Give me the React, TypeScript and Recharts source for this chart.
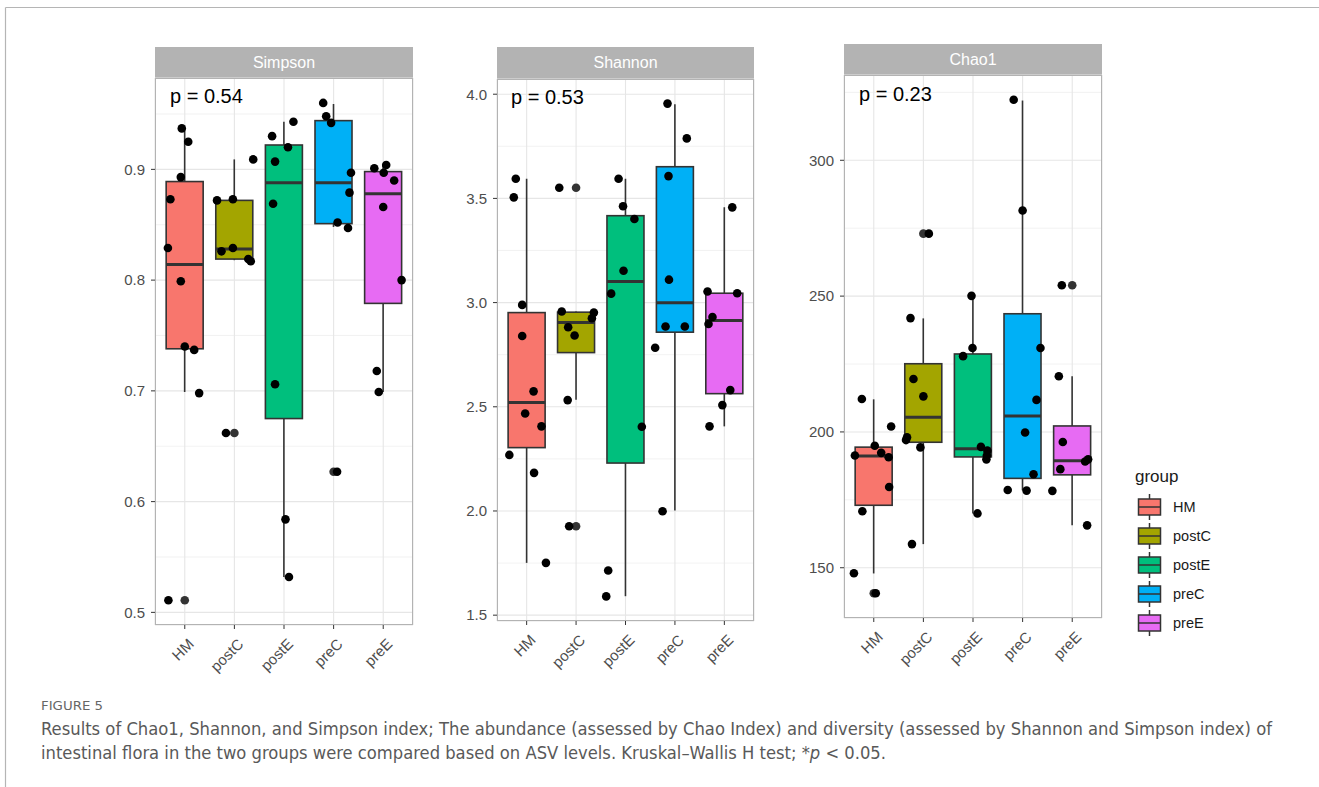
import React from "react";
import { ComposedChart, Bar, Scatter, XAxis, YAxis, CartesianGrid } from "recharts";

const groups = ["HM", "postC", "postE", "preC", "preE"];
const groupColors = ["#F8766D", "#A3A500", "#00BF7D", "#00B0F6", "#E76BF3"];

// box stats per group: [lower whisker, Q1, median, Q3, upper whisker]
const simpsonBoxes = [
  [0.699, 0.738, 0.814, 0.889, 0.935],
  [0.818, 0.819, 0.828, 0.872, 0.909],
  [0.532, 0.675, 0.888, 0.922, 0.943],
  [0.848, 0.851, 0.888, 0.944, 0.959],
  [0.699, 0.779, 0.878, 0.898, 0.904],
];
const simpsonValues = [
  [0.937, 0.925, 0.893, 0.873, 0.829, 0.799, 0.740, 0.737, 0.698, 0.511],
  [0.872, 0.873, 0.909, 0.826, 0.829, 0.819, 0.817, 0.662],
  [0.930, 0.943, 0.920, 0.907, 0.869, 0.706, 0.584, 0.532],
  [0.960, 0.948, 0.942, 0.897, 0.879, 0.852, 0.847, 0.627],
  [0.901, 0.904, 0.897, 0.890, 0.866, 0.800, 0.718, 0.699],
];
const simpsonJitter = [
  [-0.06, 0.07, -0.08, -0.29, -0.34, -0.08, 0.0, 0.19, 0.29, -0.33],
  [-0.35, -0.03, 0.38, -0.26, -0.03, 0.28, 0.33, -0.17],
  [-0.24, 0.19, 0.08, -0.18, -0.22, -0.18, 0.03, 0.10],
  [-0.21, -0.15, -0.05, 0.35, 0.32, 0.08, 0.29, 0.07],
  [-0.18, 0.06, 0.01, 0.22, 0.0, 0.37, -0.13, -0.09],
];
const simpsonOutliers = [[0.511], [0.662], [], [0.627], []];

const shannonBoxes = [
  [1.751, 2.304, 2.521, 2.952, 3.594],
  [2.534, 2.760, 2.904, 2.954, 2.957],
  [1.591, 2.230, 3.101, 3.417, 3.594],
  [2.002, 2.858, 2.999, 3.652, 3.952],
  [2.406, 2.563, 2.914, 3.045, 3.457],
];
const shannonValues = [
  [3.594, 3.505, 2.989, 2.840, 2.574, 2.468, 2.406, 2.269, 2.183, 1.751],
  [3.551, 2.957, 2.952, 2.925, 2.882, 2.842, 2.532, 1.927],
  [3.594, 3.462, 3.401, 3.153, 3.043, 2.404, 1.714, 1.590],
  [3.955, 3.788, 3.607, 3.110, 2.885, 2.885, 2.783, 1.999],
  [3.457, 3.053, 3.045, 2.931, 2.897, 2.580, 2.508, 2.406],
];
const shannonJitter = [
  [-0.22, -0.26, -0.09, -0.09, 0.14, -0.03, 0.30, -0.35, 0.15, 0.39],
  [-0.34, -0.29, 0.36, 0.32, -0.16, -0.03, -0.17, -0.14],
  [-0.14, -0.05, 0.18, -0.04, -0.29, 0.33, -0.35, -0.39],
  [-0.15, 0.24, -0.13, -0.12, -0.19, 0.20, -0.40, -0.25],
  [0.16, -0.34, 0.26, -0.24, -0.32, 0.12, -0.04, -0.30],
];
const shannonOutliers = [[], [3.551, 1.927], [], [], []];

const chaoBoxes = [
  [147.9, 173.0, 191.1, 194.4, 212.0],
  [158.7, 196.2, 205.4, 225.1, 241.8],
  [170.0, 190.8, 193.8, 228.7, 250.0],
  [178.5, 182.9, 205.9, 243.5, 322.0],
  [165.6, 184.2, 189.4, 202.2, 220.5],
];
const chaoValues = [
  [212.1, 202.0, 194.9, 191.3, 192.3, 190.7, 179.7, 170.8, 148.0, 140.6],
  [273.0, 241.9, 219.5, 213.1, 198.0, 197.0, 194.3, 158.7],
  [250.1, 230.9, 227.9, 194.5, 193.1, 191.3, 189.9, 170.0],
  [322.3, 281.5, 230.9, 211.8, 199.8, 184.4, 178.6, 178.4],
  [254.0, 220.5, 196.3, 189.1, 189.9, 186.3, 178.3, 165.6],
];
const chaoJitter = [
  [-0.24, 0.35, 0.02, -0.38, 0.15, 0.30, 0.31, -0.23, -0.40, 0.04],
  [0.11, -0.26, -0.20, 0.0, -0.33, -0.35, -0.06, -0.23],
  [-0.03, -0.01, -0.20, 0.16, 0.29, 0.28, 0.27, 0.09],
  [-0.18, 0.0, 0.36, 0.28, 0.05, 0.22, -0.30, 0.08],
  [-0.21, -0.27, -0.19, 0.26, 0.32, -0.24, -0.40, 0.30],
];
const chaoOutliers = [[140.6], [273.0], [], [], [254.0]];

const simpsonTicks = [0.5, 0.6, 0.7, 0.8, 0.9];
const simpsonMinor = [0.55, 0.65, 0.75, 0.85, 0.95];
const shannonTicks = [1.5, 2.0, 2.5, 3.0, 3.5, 4.0];
const shannonMinor = [1.75, 2.25, 2.75, 3.25, 3.75];
const chaoTicks = [150, 200, 250, 300];
const chaoMinor = [175, 225, 275, 325];

const FONT = "'Liberation Sans', Arial, Helvetica, sans-serif";
const CAPFONT = "'Liberation Sans Narrow', 'DejaVu Sans Condensed', 'Liberation Sans', sans-serif";
const ML = 70;
const MT = 10;
const MR = 10;
const MB = 70;

type PanelCfg = {
  title: string;
  pLabel: string;
  boxes: number[][];
  values: number[][];
  jitter: number[][];
  outliers: number[][];
  domain: [number, number];
  ticks: number[];
  minor: number[];
  fmt: (v: number) => string;
  plotLeft: number;
  plotTop: number;
  plotW: number;
  plotH: number;
  stripTop: number;
  pX: number;
  pY: number;
};

const BoxShape = (props: any) => {
  const { x, y, width, height, payload } = props;
  const [lo, q1, med, q3, hi] = payload.stats;
  const top = Math.min(y, y + height);
  const h = Math.abs(height);
  const py = (v: number) => top + ((hi - v) / (hi - lo)) * h;
  const cx = x + width / 2;
  const color = groupColors[payload.idx];
  return (
    <g>
      <line x1={cx} x2={cx} y1={py(hi)} y2={py(q3)} stroke="#333" strokeWidth={1.6} />
      <line x1={cx} x2={cx} y1={py(q1)} y2={py(lo)} stroke="#333" strokeWidth={1.6} />
      <rect x={x} y={py(q3)} width={width} height={py(q1) - py(q3)} fill={color} stroke="#333" strokeWidth={1.6} />
      <line x1={x} x2={x + width} y1={py(med)} y2={py(med)} stroke="#333" strokeWidth={3} />
    </g>
  );
};

const XTick = (props: any) => {
  const { x, y, payload } = props;
  const px = x + 10;
  const py = y + 14;
  return (
    <text x={px} y={py} transform={`rotate(-45, ${px}, ${py})`} textAnchor="end" fontSize={15} fill="#4d4d4d" fontFamily={FONT}>
      {payload.value}
    </text>
  );
};

function Panel({ cfg }: { cfg: PanelCfg }) {
  const boxData = groups.map((g, i) => ({
    group: g,
    idx: i,
    range: [cfg.boxes[i][0], cfg.boxes[i][4]],
    stats: cfg.boxes[i],
    y: cfg.boxes[i][2],
  }));
  const pts: { x: number; y: number }[] = [];
  cfg.values.forEach((arr, gi) =>
    arr.forEach((v, k) => pts.push({ x: gi + 1 + cfg.jitter[gi][k], y: v }))
  );
  const outs: { x: number; y: number }[] = [];
  cfg.outliers.forEach((arr, gi) => arr.forEach((v) => outs.push({ x: gi + 1, y: v })));
  const pad = cfg.plotW / 52;
  return (
    <>
      <div
        style={{
          position: "absolute",
          left: cfg.plotLeft,
          top: cfg.stripTop,
          width: cfg.plotW,
          height: cfg.plotTop - cfg.stripTop,
          background: "#b3b3b3",
          color: "#ffffff",
          fontSize: 16,
          fontFamily: FONT,
          display: "flex",
          alignItems: "center",
          justifyContent: "center",
        }}
      >
        {cfg.title}
      </div>
      <div style={{ position: "absolute", left: cfg.plotLeft - ML, top: cfg.plotTop - MT }}>
        <ComposedChart
          width={cfg.plotW + ML + MR}
          height={cfg.plotH + MT + MB}
          data={boxData}
          margin={{ top: MT, right: MR, bottom: 0, left: ML - 50 }}
          barCategoryGap="12.5%"
        >
          <CartesianGrid stroke="#efefef" strokeWidth={0.8} vertical={false} horizontalValues={cfg.minor} />
          <CartesianGrid stroke="#e6e6e6" strokeWidth={1.1} />
          <XAxis
            dataKey="group"
            type="category"
            padding={{ left: pad, right: pad }}
            interval={0}
            height={MB}
            axisLine={false}
            tickLine={{ stroke: "#333" }}
            tickSize={4}
            tick={<XTick />}
          />
          <XAxis xAxisId="j" type="number" dataKey="x" domain={[0.4, 5.6]} hide allowDataOverflow />
          <YAxis
            type="number"
            dataKey="y"
            domain={cfg.domain}
            ticks={cfg.ticks}
            allowDataOverflow
            width={50}
            axisLine={false}
            tickLine={{ stroke: "#333" }}
            tickSize={4}
            tickMargin={6}
            tickFormatter={cfg.fmt}
            tick={{ fontSize: 15, fill: "#4d4d4d", fontFamily: FONT }}
          />
          <Bar dataKey="range" isAnimationActive={false} shape={<BoxShape />} />
          <Scatter
            xAxisId="j"
            data={outs}
            isAnimationActive={false}
            shape={(p: any) => <circle cx={p.cx} cy={p.cy} r={4.3} fill="#333" />}
          />
          <Scatter
            xAxisId="j"
            data={pts}
            isAnimationActive={false}
            shape={(p: any) => <circle cx={p.cx} cy={p.cy} r={4.3} fill="#000" />}
          />
        </ComposedChart>
      </div>
      <div
        style={{
          position: "absolute",
          left: cfg.plotLeft,
          top: cfg.plotTop,
          width: cfg.plotW,
          height: cfg.plotH,
          boxSizing: "border-box",
          border: "1.3px solid #b3b3b3",
          pointerEvents: "none",
        }}
      />
      <div
        style={{
          position: "absolute",
          left: cfg.pX,
          top: cfg.pY,
          fontSize: 20,
          fontFamily: FONT,
          color: "#000",
          lineHeight: "20px",
          whiteSpace: "nowrap",
        }}
      >
        {cfg.pLabel}
      </div>
    </>
  );
}

const panels: PanelCfg[] = [
  {
    title: "Simpson",
    pLabel: "p = 0.54",
    boxes: simpsonBoxes,
    values: simpsonValues,
    jitter: simpsonJitter,
    outliers: simpsonOutliers,
    domain: [0.4886, 0.9825],
    ticks: simpsonTicks,
    minor: simpsonMinor,
    fmt: (v) => v.toFixed(1),
    plotLeft: 155,
    plotTop: 78,
    plotW: 258,
    plotH: 547,
    stripTop: 47,
    pX: 170,
    pY: 86,
  },
  {
    title: "Shannon",
    pLabel: "p = 0.53",
    boxes: shannonBoxes,
    values: shannonValues,
    jitter: shannonJitter,
    outliers: shannonOutliers,
    domain: [1.472, 4.073],
    ticks: shannonTicks,
    minor: shannonMinor,
    fmt: (v) => v.toFixed(1),
    plotLeft: 497,
    plotTop: 79,
    plotW: 257,
    plotH: 542,
    stripTop: 47,
    pX: 511,
    pY: 87,
  },
  {
    title: "Chao1",
    pLabel: "p = 0.23",
    boxes: chaoBoxes,
    values: chaoValues,
    jitter: chaoJitter,
    outliers: chaoOutliers,
    domain: [131.5, 331.4],
    ticks: chaoTicks,
    minor: chaoMinor,
    fmt: (v) => String(v),
    plotLeft: 844,
    plotTop: 75,
    plotW: 258,
    plotH: 543,
    stripTop: 44,
    pX: 859,
    pY: 84,
  },
];

const captionLines = [
  "Results of Chao1, Shannon, and Simpson index; The abundance (assessed by Chao Index) and diversity (assessed by Shannon and Simpson index) of",
  "intestinal flora in the two groups were compared based on ASV levels. Kruskal\u2013Wallis H test; *",
];

export default function App() {
  return (
    <div style={{ position: "absolute", left: 0, top: 0, width: 1319, height: 787, background: "#fff", fontFamily: FONT, overflow: "hidden" }}>
      <svg width={1319} height={787} style={{ position: "absolute", left: 0, top: 0 }}>
        <line x1={5.5} y1={7.5} x2={1319} y2={7.5} stroke="#b5b5b5" strokeWidth={1.2} />
        <line x1={5.5} y1={7.5} x2={5.5} y2={787} stroke="#b5b5b5" strokeWidth={1.2} />
        <text x={1135} y={482} fontSize={17} fill="#1a1a1a" fontFamily={FONT}>group</text>
        {groups.map((g, i) => {
          const cy = 507 + i * 29;
          return (
            <g key={g}>
              <line x1={1149.5} x2={1149.5} y1={cy - 13} y2={cy + 13} stroke="#333" strokeWidth={1.5} />
              <rect x={1138.5} y={cy - 8} width={22} height={16} fill={groupColors[i]} stroke="#333" strokeWidth={1.5} />
              <line x1={1138.5} x2={1160.5} y1={cy} y2={cy} stroke="#333" strokeWidth={1.5} />
              <text x={1173} y={cy + 5} fontSize={14.5} fill="#1a1a1a" fontFamily={FONT}>{g}</text>
            </g>
          );
        })}
        <text x={41} y={710} fontSize={13} fill="#666" fontFamily={CAPFONT} textLength={62} lengthAdjust="spacingAndGlyphs">FIGURE 5</text>
        <text x={41} y={735} fontSize={17} fill="#595959" fontFamily={CAPFONT} textLength={1231} lengthAdjust="spacingAndGlyphs">{captionLines[0]}</text>
        <text x={41} y={759} fontSize={17} fill="#595959" fontFamily={CAPFONT} textLength={845} lengthAdjust="spacingAndGlyphs">
          <tspan>{captionLines[1]}</tspan>
          <tspan fontStyle="italic">p</tspan>
          <tspan>{" < 0.05."}</tspan>
        </text>
      </svg>
      {panels.map((p) => (
        <Panel key={p.title} cfg={p} />
      ))}
    </div>
  );
}
